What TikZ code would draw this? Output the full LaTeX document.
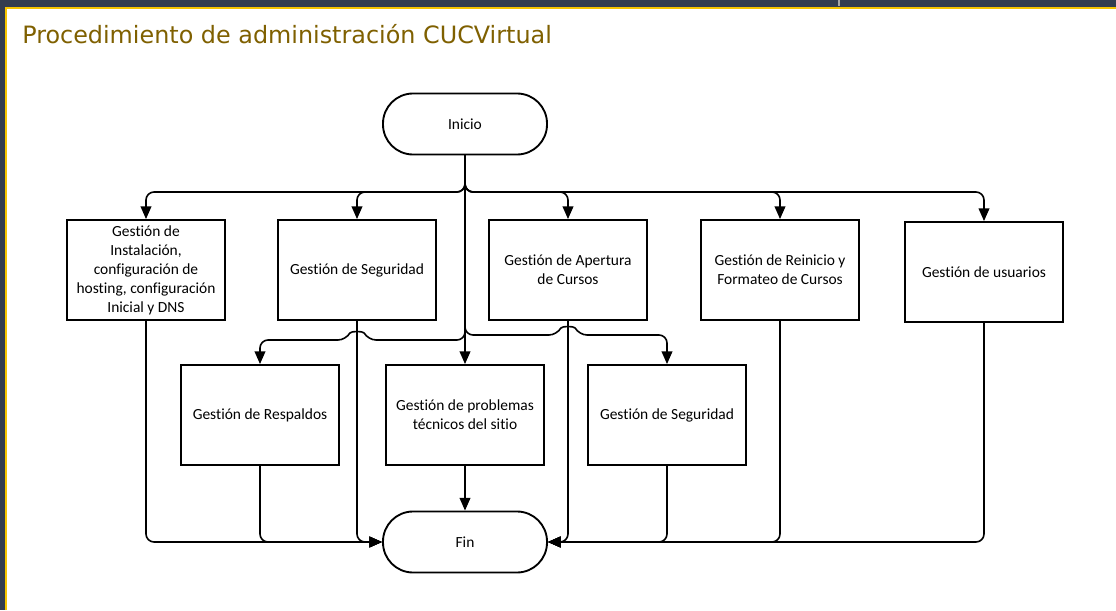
\documentclass[tikz,border=0pt]{standalone}
\usepackage{fontspec}
\setmainfont{Carlito}[Ligatures=NoCommon]
\newfontfamily\titlefont{DejaVu Sans}
\usetikzlibrary{arrows.meta}
\definecolor{bandgray}{HTML}{323C4F}
\definecolor{bandgold}{HTML}{F5C400}
\definecolor{titlegold}{HTML}{7F6000}

\begin{document}
\begin{tikzpicture} [x=0.75pt, y=-0.75pt, >={Triangle[length=9.5pt, width=8pt]},
  link/.style={->, line width=1.2pt, rounded corners=6pt},
  proc/.style={draw, fill=white, line width=1.4pt, minimum width=119pt, minimum height=75pt, align=center, inner sep=2pt, font=\fontsize{11.6}{14.25}\selectfont},
  term/.style={proc, rounded corners=22.5pt, minimum width=123pt, minimum height=45.75pt}]

\useasboundingbox (0,0) rectangle (1116,610);
\fill [white] (0,0) rectangle (1116,610);
\fill [bandgray] (0,0) rectangle (1116,7);
\fill [bandgray] (0,0) rectangle (5,610);
\draw [bandgold, line width=1.6pt] (6,610) -- (6,8) -- (1116,8);
\draw [gray!70, line width=1pt] (839,0) -- (839,6);

\node at (22,44) [anchor=base west, inner sep=0pt, text=titlegold, font=\titlefont\fontsize{17.9}{20}\selectfont] (title) {Procedimiento de administración CUCVirtual};

\node at (465,124) [term] (inicio) {Inicio};
\node at (146,270) [proc] (inst) {Gestión de\\Instalación,\\configuración de\\hosting, configuración\\Inicial y DNS};
\node at (357,270) [proc] (segA) {Gestión de Seguridad};
\node at (568,270) [proc] (aper) {Gestión de Apertura\\de Cursos};
\node at (780,270) [proc] (rein) {Gestión de Reinicio y\\Formateo de Cursos};
\node at (984,272) [proc] (usu) {Gestión de usuarios};
\node at (260,415) [proc] (resp) {Gestión de Respaldos};
\node at (465,415) [proc] (prob) {Gestión de problemas\\técnicos del sitio};
\node at (667,415) [proc] (segB) {Gestión de Seguridad};
\node at (465,542) [term] (fin) {Fin};

\coordinate (split) at (465,192);
\coordinate (splitL) at (465,340);
\coordinate (splitR) at (465,335);

% Inicio to first row
\foreach \b in {inst,segA,aper,rein,usu}
  \draw [link] (inicio.south) -- (split) -| (\b.north);

% Inicio to second row, hopping over the lines from above
\draw [link] (inicio.south) -- (prob.north);
\draw [link] (inicio.south) -- (splitL) -- (368,340) .. controls (363,331) and (351,331) .. (346,340) -| (resp.north);
\draw [link] (inicio.south) -- (splitR) -- (557,335) .. controls (562,326) and (574,326) .. (579,335) -| (segB.north);

% everything to Fin
\foreach \b in {inst,segA,resp}
  \draw [link] (\b.south) |- (fin.west);
\foreach \b in {aper,segB,rein,usu}
  \draw [link] (\b.south) |- (fin.east);
\draw [link] (prob.south) -- (fin.north);

\end{tikzpicture}
\end{document}
